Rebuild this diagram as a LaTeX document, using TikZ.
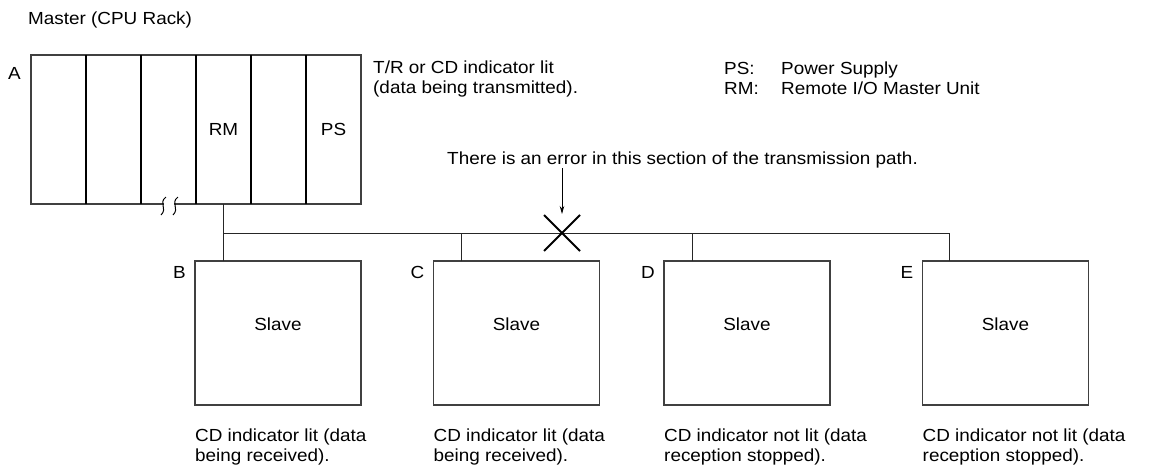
\documentclass[tikz,border=0pt]{standalone}
\usepackage{fontspec}
\setmainfont{Liberation Sans}[FakeStretch=1.08]
\usetikzlibrary{arrows.meta, positioning}

\begin{document}
\begin{tikzpicture}[x=1pt, y=-1pt,
    txt/.style={font=\fontsize{17.5}{19.5}\selectfont, inner sep=0pt},
    frame/.style={draw=black!75, line width=1.2pt, inner sep=0pt, outer sep=0pt},
    divider/.style={line width=1.8pt},
    wire/.style={line width=1pt, black!85},
    arr/.style={-{Stealth[length=8pt, width=4.5pt]}, line width=0.9pt}
]
\useasboundingbox (0,0) rectangle (1159,472);

% master rack
\node[frame, minimum width=330pt, minimum height=149pt] (rack) at (196,129.5) {};
\foreach \i in {1,...,5}
  \draw[divider] ([xshift=\i*55pt]rack.north west) -- ([xshift=\i*55pt]rack.south west);
\node[txt] (rm) at ([xshift=3.5*55pt]rack.west) {RM};
\node[txt] (ps) at ([xshift=5.5*55pt]rack.west) {PS};
\node[txt, anchor=north east] (a) at ([xshift=-10pt, yshift=-12pt]rack.north west) {A};
\node[txt, anchor=west] (master) at (28,20) {Master (CPU Rack)};
\node[txt, anchor=north west, align=left] (tr) at ([xshift=12pt, yshift=-6pt]rack.north east)
    {T/R or CD indicator lit\\(data being transmitted).};

% break mark
\draw[white, line width=2pt] (164,204) -- (174,204);
\foreach \x in {163,175}
  \draw[line width=1pt] (\x+3,197) .. controls (\x-5,203) and (\x+5,208) .. (\x-2,215);

% legend
\node[txt, anchor=north west] (legend) at (724,61)
    {\begin{tabular}{@{}p{57pt}@{}l@{}}PS: & Power Supply\\RM: & Remote I/O Master Unit\end{tabular}};

% slaves
\foreach \n/\x/\l in {b/278/B, c/516.5/C, d/747/D, e/1005.5/E} {
  \node[frame, minimum width=166pt, minimum height=144pt] (\n) at (\x,333) {};
  \node[txt] at ([yshift=9pt]\n.center) {Slave};
  \node[txt, anchor=north east] (\n lbl) at ([xshift=-9pt, yshift=-5pt]\n.north west) {\l};
}
\node[txt, anchor=north west, align=left] (bnote) at ([yshift=-24pt]b.south west) {CD indicator lit (data\\being received).};
\node[txt, anchor=north west, align=left] (cnote) at ([yshift=-24pt]c.south west) {CD indicator lit (data\\being received).};
\node[txt, anchor=north west, align=left] (dnote) at ([yshift=-24pt]d.south west) {CD indicator not lit (data\\reception stopped).};
\node[txt, anchor=north west, align=left] (enote) at ([yshift=-24pt]e.south west) {CD indicator not lit (data\\reception stopped).};

% transmission path
\coordinate (tap) at (rm |- 0,233);
\draw[wire] (rm |- rack.south) -- (tap |- b.north);
\draw[wire] (tap) -| ([xshift=27pt]e.north west);
\draw[wire] ([xshift=28pt]c.north west) -- ([xshift=28pt]c.north west |- tap);
\draw[wire] ([xshift=28pt]d.north west) -- ([xshift=28pt]d.north west |- tap);

% error
\coordinate (fault) at (562,233);
\draw[line width=2pt] ([shift={(-18,-18)}]fault) -- ([shift={(18,18)}]fault)
                      ([shift={(-18,18)}]fault) -- ([shift={(18,-18)}]fault);
\node[txt, anchor=west] (err) at (447,160) {There is an error in this section of the transmission path.};
\draw[arr] (err.south -| fault) -- ([yshift=19pt]fault);
\end{tikzpicture}
\end{document}
